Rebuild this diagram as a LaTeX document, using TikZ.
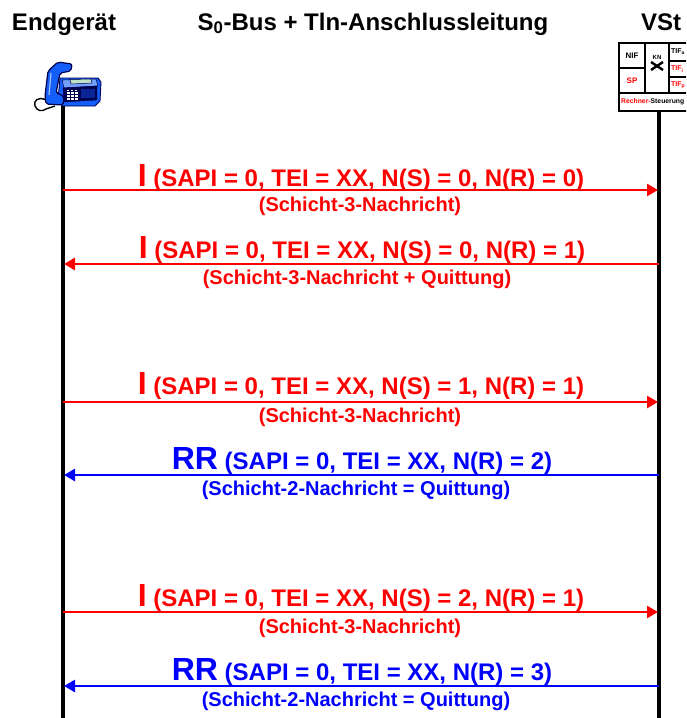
\documentclass[tikz,border=0pt]{standalone}
\usepackage{fontspec}
\setmainfont{Liberation Sans}
\usetikzlibrary{arrows.meta}
\definecolor{msgred}{RGB}{255,0,0}
\definecolor{msgblue}{RGB}{0,0,255}
\definecolor{phoneblue}{RGB}{20,95,250}
\definecolor{phonedark}{RGB}{0,0,80}
\definecolor{screen}{RGB}{190,225,200}
\begin{document}
\begin{tikzpicture}[x=1pt,y=-1pt,
  lifeline/.style={line width=4pt},
  msg/.style={line width=2.6pt,-{Triangle[length=11pt,width=12pt]},shorten >=1pt},
  mainlbl/.style={font=\fontsize{24}{24}\selectfont\bfseries,anchor=base,inner sep=0pt},
  sublbl/.style={font=\fontsize{20}{20}\selectfont\bfseries,anchor=base,inner sep=0pt},
  headlbl/.style={font=\fontsize{24}{24}\selectfont\bfseries,anchor=base,inner sep=0pt},
  cell/.style={line width=2pt},
  celltxt/.style={font=\fontsize{8}{8}\selectfont\bfseries,inner sep=0pt}
]
\newcommand{\msgtype}[1]{{\fontsize{32}{32}\selectfont #1}}
\useasboundingbox (0,0) rectangle (686,718);
\clip (0,0) rectangle (686,718);

% headings
\node[headlbl] (hA) at (64,30) {Endgerät};
\node[headlbl] (hB) at (373,30) {S\textsubscript{0}-Bus + Tln-Anschlussleitung};
\node[headlbl] (hC) at (661,30) {VSt};

% telephone (terminal): body
\draw[phonedark,line width=0.9pt,fill=phoneblue,line join=round]
  (60,78) -- (98,78) -- (101,82) -- (100,101) -- (95,106) -- (62,106) -- (58,100) -- cycle;
\draw[phonedark,line width=0.6pt,fill=phoneblue!60!white]
  (62,80) -- (96,79) -- (98,86) -- (64,88) -- cycle;
\draw[phonedark,line width=0.5pt,fill=screen]
  (70,79.5) -- (91,79) -- (92,83) -- (71,84) -- cycle;
\draw[phonedark,fill=phonedark] (63,88) -- (97,86) -- (97,100) -- (64,102) -- cycle;
\foreach \r in {0,1,2,3}
  \foreach \c in {0,1,2}
    \fill[white] ({66.5+\c*4+\r*0.3},{89.5+\r*2.9}) rectangle ++(2.8,1.9);
\fill[phonedark!60!phoneblue] (81,89) rectangle (95,98);
% handset
\draw[phonedark,line width=1.2pt,fill=phoneblue,rounded corners=2pt]
  (58,62) -- (72,64) -- (71,71) -- (60,73) -- (56,93) -- (64,96) -- (63,105)
  -- (46,104) -- (45,96) -- (48,71) -- cycle;
\draw[white!60!phoneblue,line width=1.2pt] (51,73) -- (49,95);
% coiled cord
\draw[black,line width=1.4pt]
  (46,100) .. controls (38,96) and (33,101) .. (35,106)
  .. controls (37,111) and (42,112) .. (46,109)
  .. controls (49,107) and (52,108) .. (55,106);
\coordinate (tel) at (63,106);

% exchange (VSt) block
\draw[cell,fill=white] (619,43) rectangle (700,111);
\draw[cell] (619,93) -- (700,93);
\draw[cell] (645,43) -- (645,93);
\draw[cell] (669,43) -- (669,93);
\draw[cell] (619,68) -- (645,68);
\draw[cell] (669,61) -- (700,61);
\draw[cell] (669,77) -- (700,77);
\node[celltxt] (nif) at (632,56) {NIF};
\node[celltxt,text=msgred] (sp) at (632,81) {SP};
\node[celltxt,font=\fontsize{6}{6}\selectfont\bfseries] (kn) at (657,57) {KN};
\draw[line width=2.4pt] (651,62) -- (663,70);
\draw[line width=2.4pt] (651,70) -- (663,62);
\node[celltxt,anchor=west,font=\fontsize{7}{7}\selectfont\bfseries] (tif1) at (671,52) {TIF\textsubscript{\tiny a}};
\node[celltxt,anchor=west,font=\fontsize{7}{7}\selectfont\bfseries,text=msgred] (tif2) at (671,69) {TIF\textsubscript{\tiny i}};
\node[celltxt,anchor=west,font=\fontsize{7}{7}\selectfont\bfseries,text=msgred] (tif3) at (671,85) {TIF\textsubscript{\tiny p}};
\node[celltxt,anchor=west,font=\fontsize{6.8}{6.8}\selectfont\bfseries] (rs) at (621,102)
  {\textcolor{msgred}{Rechner-}Steuerung};
\coordinate (vst) at (659,111);

% lifelines
\coordinate (telend) at (63,718);
\coordinate (vstend) at (659,718);
\draw[lifeline] (tel) -- (telend);
\draw[lifeline] (vst) -- (vstend);

% anchor points of the messages on both lifelines
\foreach \i/\y in {1/190,2/264,3/402,4/475,5/612,6/686}{
  \coordinate (L\i) at (63,\y);
  \coordinate (R\i) at (659,\y);
}

% 1: I-frame terminal -> exchange
\draw[msg,msgred] (L1) -- (R1);
\node[mainlbl,text=msgred] (m1) at (361,186) {\msgtype{I} (SAPI = 0, TEI = XX, N(S) = 0, N(R) = 0)};
\node[sublbl,text=msgred] (s1) at (360,211) {(Schicht-3-Nachricht)};

% 2: I-frame exchange -> terminal
\draw[msg,msgred] (R2) -- (L2);
\node[mainlbl,text=msgred] (m2) at (362,258) {\msgtype{I} (SAPI = 0, TEI = XX, N(S) = 0, N(R) = 1)};
\node[sublbl,text=msgred] (s2) at (357,284) {(Schicht-3-Nachricht + Quittung)};

% 3: I-frame terminal -> exchange
\draw[msg,msgred] (L3) -- (R3);
\node[mainlbl,text=msgred] (m3) at (361,394) {\msgtype{I} (SAPI = 0, TEI = XX, N(S) = 1, N(R) = 1)};
\node[sublbl,text=msgred] (s3) at (360,422) {(Schicht-3-Nachricht)};

% 4: RR-frame exchange -> terminal
\draw[msg,msgblue] (R4) -- (L4);
\node[mainlbl,text=msgblue] (m4) at (362,469) {\msgtype{RR} (SAPI = 0, TEI = XX, N(R) = 2)};
\node[sublbl,text=msgblue] (s4) at (356,495) {(Schicht-2-Nachricht = Quittung)};

% 5: I-frame terminal -> exchange
\draw[msg,msgred] (L5) -- (R5);
\node[mainlbl,text=msgred] (m5) at (361,606) {\msgtype{I} (SAPI = 0, TEI = XX, N(S) = 2, N(R) = 1)};
\node[sublbl,text=msgred] (s5) at (360,633) {(Schicht-3-Nachricht)};

% 6: RR-frame exchange -> terminal
\draw[msg,msgblue] (R6) -- (L6);
\node[mainlbl,text=msgblue] (m6) at (362,680) {\msgtype{RR} (SAPI = 0, TEI = XX, N(R) = 3)};
\node[sublbl,text=msgblue] (s6) at (356,706) {(Schicht-2-Nachricht = Quittung)};
\end{tikzpicture}
\end{document}
